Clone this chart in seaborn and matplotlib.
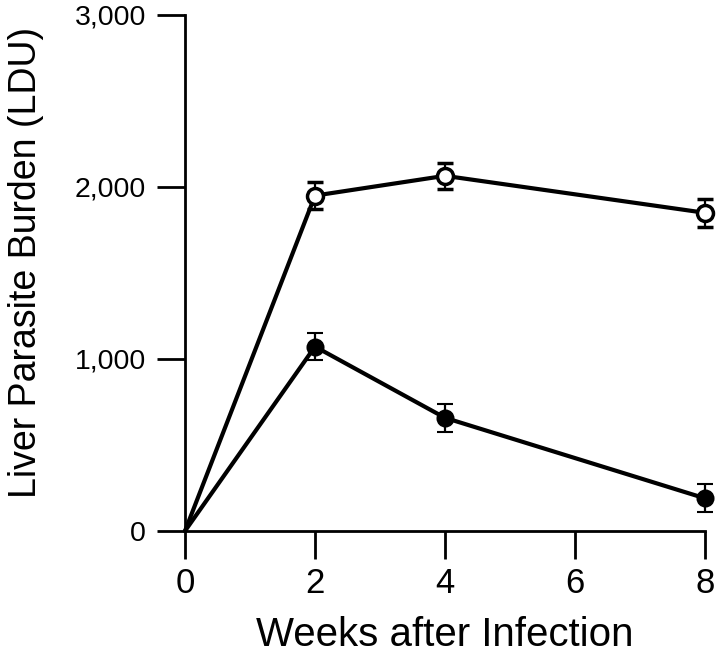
import matplotlib
matplotlib.use("Agg")
import matplotlib.pyplot as plt
import seaborn as sns
import pandas as pd
import numpy as np

weeks = [0, 2, 4, 8]
open_vals = [0, 1950, 2065, 1850]
open_err = [0, 78, 75, 80]
filled_vals = [0, 1072, 658, 190]
filled_err = [0, 78, 80, 82]
x_ticks = [0, 2, 4, 6, 8]
y_ticks = [0, 1000, 2000, 3000]
y_ticklabels = ["0", "1,000", "2,000", "3,000"]

sns.set_theme(style="ticks")
plt.rcParams['font.family'] = ['Liberation Sans', 'DejaVu Sans']
plt.rcParams['text.color'] = 'black'
plt.rcParams['axes.labelcolor'] = 'black'

df = pd.DataFrame({
    "week": weeks * 2,
    "ldu": open_vals + filled_vals,
    "group": ["open"] * len(weeks) + ["filled"] * len(weeks),
})

fig = plt.figure(figsize=(7.2, 6.61), dpi=100)
ax = fig.add_axes([185/720, 1 - 531/661, (705 - 185)/720, (531 - 15)/661])

sns.lineplot(data=df, x="week", y="ldu", units="group", estimator=None,
             color="black", linewidth=3.0, ax=ax, legend=False, clip_on=False)

ax.errorbar(weeks[1:], open_vals[1:], yerr=open_err[1:], fmt="o", color="black",
            markerfacecolor="white", markeredgecolor="black", markeredgewidth=2.5,
            markersize=11.5, ecolor="black", elinewidth=1.6, capsize=6, capthick=1.6,
            clip_on=False, zorder=5)
ax.errorbar(weeks[1:], filled_vals[1:], yerr=filled_err[1:], fmt="o", color="black",
            markerfacecolor="black", markeredgecolor="black", markeredgewidth=1.5,
            markersize=11.5, ecolor="black", elinewidth=1.6, capsize=6, capthick=1.6,
            clip_on=False, zorder=5)

ax.set_xlim(0, 8)
ax.set_ylim(0, 3000)
ax.set_xticks(x_ticks)
ax.set_xticklabels([str(t) for t in x_ticks])
ax.set_yticks(y_ticks)
ax.set_yticklabels(y_ticklabels)

for s in ["top", "right"]:
    ax.spines[s].set_visible(False)
for s in ["left", "bottom"]:
    ax.spines[s].set_linewidth(2.0)
    ax.spines[s].set_color("black")

ax.tick_params(axis="both", direction="out", length=20, width=2.0, colors="black",
               labelcolor="black")
ax.tick_params(axis="y", labelsize=20.5, pad=8)
ax.tick_params(axis="x", labelsize=25, pad=6)
ax.set_xlabel("Weeks after Infection", fontsize=29, color="black")
ax.set_ylabel("Liver Parasite Burden (LDU)", fontsize=27, color="black")
ax.xaxis.set_label_coords(0.5, -0.165)
ax.yaxis.set_label_coords(-0.272, 0.52)

fig.savefig("out.png", dpi=100)
